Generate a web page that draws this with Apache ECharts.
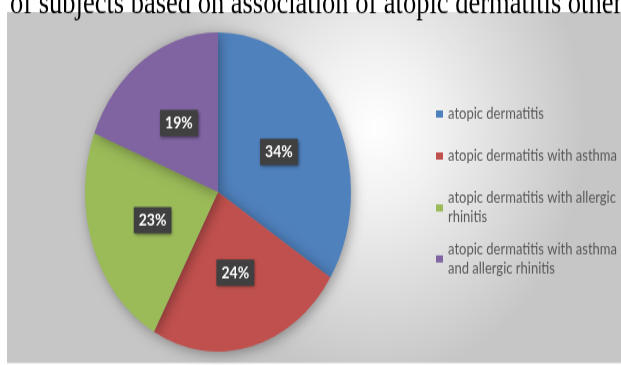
<!DOCTYPE html>
<html>
<head>
<meta charset="utf-8">
<script src="https://cdn.jsdelivr.net/npm/echarts@6.0.0/dist/echarts.min.js"></script>
<style>
  html, body { margin: 0; padding: 0; background: #fff; }
  #page { width: 621px; height: 365px; overflow: hidden; position: relative; }
  /* the source picture is stretched vertically, so the chart is too */
  #chart { position: absolute; left: 0; top: 0; width: 621px; height: 304px; transform: scaleY(1.2); transform-origin: 0 0; }
</style>
</head>
<body>
<div id="page"><div id="chart"></div></div>
<script>
  var categories = [
    'atopic dermatitis',
    'atopic dermatitis with asthma',
    'atopic dermatitis with allergic rhinitis',
    'atopic dermatitis with asthma and allergic rhinitis'
  ];
  var legendLines = [
    'atopic dermatitis',
    'atopic dermatitis with asthma',
    'atopic dermatitis with allergic\nrhinitis',
    'atopic dermatitis with asthma\nand allergic rhinitis'
  ];
  var percents = [34, 24, 23, 19];
  var colors = ['#4f81bd', '#c0504d', '#9bbb59', '#8064a2'];
  var titleText = 'of subjects based on association of atopic dermatitis other';

  var myChart = echarts.init(document.getElementById('chart'));

  var pieData = [];
  for (var i = 0; i < categories.length; i++) {
    pieData.push({ name: categories[i], value: percents[i] });
  }

  // one legend per entry, the entries are not evenly spaced
  var legendTops = [87, 122, 149.3, 191.8];
  var legends = [];
  for (var j = 0; j < categories.length; j++) {
    var twoLines = legendLines[j].indexOf('\n') >= 0;
    legends.push({
      data: [categories[j]],
      left: 436,
      top: legendTops[j],
      orient: 'vertical',
      padding: 0,
      icon: 'rect',
      itemWidth: 7,
      itemHeight: 6,
      selectedMode: false,
      formatter: (function (k) {
        return function () { return legendLines[k]; };
      })(j),
      textStyle: {
        fontFamily: 'Lato',
        fontSize: 13,
        color: '#595959',
        lineHeight: 16,
        padding: twoLines ? [16, 0, 0, 0] : 0
      }
    });
  }

  var option = {
    animation: false,
    color: colors,
    title: {
      text: titleText,
      left: 10,
      top: -9,
      padding: 0,
      textStyle: {
        fontFamily: 'Liberation Serif',
        fontWeight: 'normal',
        fontSize: 26.5,
        color: '#000'
      }
    },
    graphic: [{
      type: 'rect',
      z: -10,
      shape: { x: 7, y: 10, width: 614, height: 292.5 },
      style: {
        fill: {
          type: 'radial', x: 0.6, y: 0.33, r: 0.72,
          colorStops: [
            { offset: 0, color: '#ffffff' },
            { offset: 0.3, color: '#f1f1f1' },
            { offset: 1, color: '#c6c6c6' }
          ]
        }
      }
    }],
    legend: legends,
    series: [{
      type: 'pie',
      center: [218, 160],
      radius: 133,
      startAngle: 90,
      data: pieData,
      itemStyle: {
        shadowBlur: 12,
        shadowColor: 'rgba(0,0,0,0.35)',
        shadowOffsetX: 2,
        shadowOffsetY: 2
      },
      label: {
        position: 'inside',
        formatter: '{c}%',
        fontFamily: 'Lato',
        fontWeight: 'bold',
        fontSize: 14,
        color: '#fff',
        backgroundColor: '#404040',
        padding: [4, 5],
        shadowBlur: 3,
        shadowColor: 'rgba(0,0,0,0.5)',
        shadowOffsetX: 1,
        shadowOffsetY: 1
      },
      labelLine: { show: false },
      emphasis: { disabled: true }
    }]
  };

  option && myChart.setOption(option);
</script>
</body>
</html>
